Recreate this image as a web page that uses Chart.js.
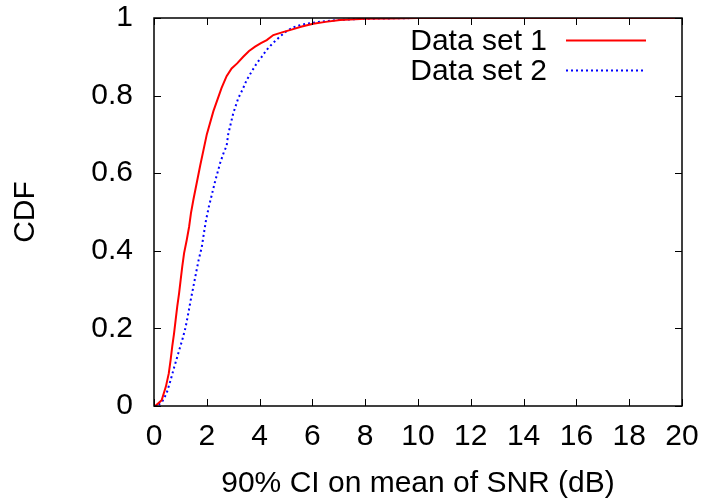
<!DOCTYPE html>
<html>
<head>
<meta charset="utf-8">
<script src="https://cdn.jsdelivr.net/npm/chart.js@4/dist/chart.umd.min.js"></script>
<style>
  html, body { margin: 0; padding: 0; background: #fff; }
  #wrap { width: 707px; height: 504px; }
</style>
</head>
<body>
<div id="wrap"><canvas id="cdf" width="707" height="504"></canvas></div>
<script>
const seriesNames = ['Data set 1', 'Data set 2'];

const set1X = [0, 0.1, 0.29, 0.45, 0.56, 0.63, 0.69, 0.76, 0.82, 0.88, 0.95, 1.01, 1.07, 1.14, 1.24, 1.33, 1.4, 1.49, 1.75, 2.0, 2.25, 2.56, 2.75, 2.94, 3.15, 3.38, 3.6, 3.83, 4.05, 4.27, 4.52, 4.85, 5.21, 5.6, 6.03, 6.5, 7.05, 8, 9, 10, 20];
const set1Y = [0, 0.003, 0.015, 0.05, 0.084, 0.119, 0.153, 0.187, 0.222, 0.256, 0.29, 0.325, 0.359, 0.394, 0.428, 0.462, 0.497, 0.531, 0.62, 0.70, 0.76, 0.82, 0.85, 0.87, 0.883, 0.90, 0.915, 0.926, 0.935, 0.943, 0.956, 0.963, 0.97, 0.978, 0.985, 0.99, 0.995, 0.998, 0.999, 1, 1];

const set2X = [0, 0.1, 0.3, 0.48, 0.63, 0.77, 0.92, 1.07, 1.2, 1.3, 1.39, 1.49, 1.59, 1.69, 1.81, 1.89, 1.97, 2.08, 2.3, 2.5, 2.65, 2.75, 2.81, 3.0, 3.19, 3.35, 3.51, 3.7, 3.89, 4.08, 4.27, 4.5, 4.77, 5.0, 5.28, 5.6, 6.03, 6.5, 7.05, 8, 9, 10, 20];
const set2Y = [0, 0, 0.01, 0.033, 0.067, 0.101, 0.136, 0.17, 0.204, 0.239, 0.273, 0.307, 0.342, 0.376, 0.41, 0.445, 0.479, 0.514, 0.575, 0.625, 0.655, 0.67, 0.70, 0.754, 0.793, 0.815, 0.84, 0.862, 0.883, 0.90, 0.918, 0.935, 0.952, 0.965, 0.976, 0.983, 0.988, 0.992, 0.995, 0.998, 0.999, 1, 1];

const xTicks = [0, 2, 4, 6, 8, 10, 12, 14, 16, 18, 20];
const yTicks = [0, 0.2, 0.4, 0.6, 0.8, 1];

const FONT = 'Liberation Sans, Arial, sans-serif';
const FS = 30;

const toPoints = (xs, ys) => xs.map((x, i) => ({ x: x, y: ys[i] }));

// no automatic room for overhanging tick labels, the layout padding handles it
const noOverhang = s => {
	s.paddingTop = 0; s.paddingBottom = 0; s.paddingLeft = 0; s.paddingRight = 0;
};

// gnuplot style frame: box with inward ticks on all four sides, key with sample line on the right
const framePlugin = {
	id: 'frame',
	afterDatasetsDraw(chart) {
		const { ctx, chartArea: a, scales } = chart;
		const tl = 7;
		ctx.save();
		ctx.strokeStyle = '#000';
		ctx.lineWidth = 1.5;
		ctx.strokeRect(a.left, a.top, a.right - a.left, a.bottom - a.top);
		ctx.lineWidth = 1;
		ctx.beginPath();
		xTicks.forEach(v => {
			const px = Math.round(scales.x.getPixelForValue(v)) + 0.5;
			ctx.moveTo(px, a.bottom); ctx.lineTo(px, a.bottom - tl);
			ctx.moveTo(px, a.top); ctx.lineTo(px, a.top + tl);
		});
		yTicks.forEach(v => {
			const py = Math.round(scales.y.getPixelForValue(v)) + 0.5;
			ctx.moveTo(a.left, py); ctx.lineTo(a.left + tl, py);
			ctx.moveTo(a.right, py); ctx.lineTo(a.right - tl, py);
		});
		ctx.stroke();

		// key
		ctx.font = FS + 'px ' + FONT;
		ctx.fillStyle = '#000';
		ctx.textAlign = 'right';
		ctx.textBaseline = 'middle';
		chart.data.datasets.forEach((ds, i) => {
			const y = 40.5 + i * 30;
			ctx.fillText(ds.label, 547, y + 1);
			ctx.beginPath();
			ctx.strokeStyle = ds.borderColor;
			ctx.lineWidth = ds.borderWidth;
			ctx.setLineDash(ds.borderDash || []);
			ctx.moveTo(566, y); ctx.lineTo(646, y);
			ctx.stroke();
		});
		ctx.restore();
	}
};

new Chart(document.getElementById('cdf'), {
	type: 'line',
	data: {
		datasets: [{
			label: seriesNames[0],
			data: toPoints(set1X, set1Y),
			borderColor: '#ff0000',
			borderWidth: 2,
			pointRadius: 0,
			tension: 0
		}, {
			label: seriesNames[1],
			data: toPoints(set2X, set2Y),
			borderColor: '#0000ff',
			borderWidth: 2,
			borderDash: [2, 3],
			pointRadius: 0,
			tension: 0
		}]
	},
	options: {
		responsive: false,
		animation: false,
		layout: { padding: { top: 18, right: 25, left: 0, bottom: 0 } },
		plugins: {
			legend: { display: false },
			tooltip: { enabled: false }
		},
		scales: {
			x: {
				type: 'linear',
				min: 0,
				max: 20,
				afterFit: s => { s.height = 98; noOverhang(s); },
				afterBuildTicks: s => { s.ticks = xTicks.map(v => ({ value: v })); },
				grid: { display: false, drawTicks: false },
				border: { display: false },
				ticks: { color: '#000', font: { family: FONT, size: FS }, padding: 13, maxRotation: 0 },
				title: { display: true, text: '90% CI on mean of SNR (dB)', color: '#000', font: { family: FONT, size: FS }, padding: { top: 0, bottom: 2 } }
			},
			y: {
				min: 0,
				max: 1,
				afterFit: s => { s.width = 154; noOverhang(s); },
				afterBuildTicks: s => { s.ticks = yTicks.map(v => ({ value: v })); },
				grid: { display: false, drawTicks: false },
				border: { display: false },
				ticks: { color: '#000', font: { family: FONT, size: FS }, padding: 21, callback: v => String(v) },
				title: { display: true, text: 'CDF', color: '#000', font: { family: FONT, size: FS }, padding: { top: 8, bottom: 0 } }
			}
		}
	},
	plugins: [framePlugin]
});
</script>
</body>
</html>
